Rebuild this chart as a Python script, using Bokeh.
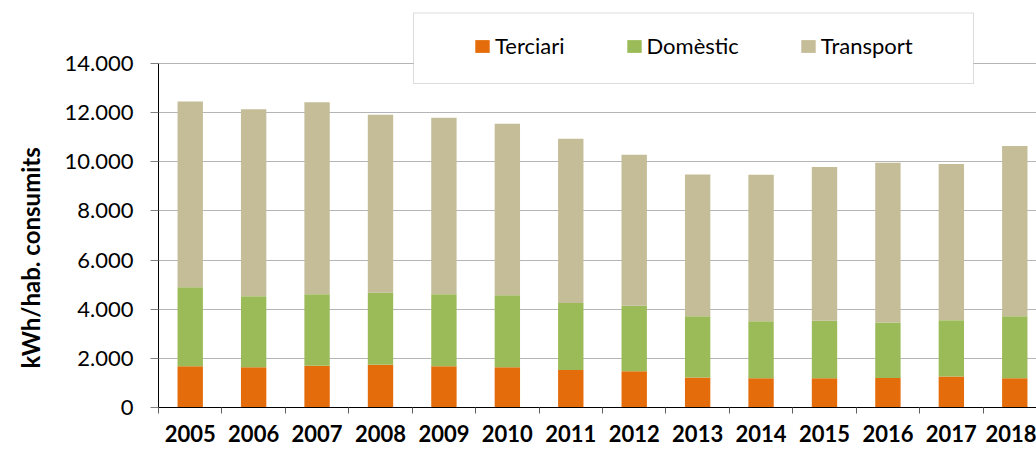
from bokeh.plotting import figure
from bokeh.models import (FixedTicker, Legend, LegendItem, BoxAnnotation, Title,
                          ColumnDataSource, Range1d)
from bokeh.embed import file_html
from bokeh.resources import INLINE

years = ["2005", "2006", "2007", "2008", "2009", "2010", "2011",
         "2012", "2013", "2014", "2015", "2016", "2017", "2018"]
terciari = [1680, 1640, 1695, 1735, 1680, 1640, 1530,
            1480, 1220, 1190, 1190, 1205, 1260, 1190]
domestic_top = [4890, 4525, 4605, 4675, 4605, 4565, 4255,
                4145, 3715, 3510, 3535, 3455, 3550, 3715]
total = [12450, 12140, 12425, 11910, 11790, 11545, 10935,
         10285, 9485, 9470, 9785, 9960, 9905, 10640]
domestic = [d - t for d, t in zip(domestic_top, terciari)]
transport = [tt - d for tt, d in zip(total, domestic_top)]

series = ["Terciari", "Domèstic", "Transport"]
colors = ["#E46C0A", "#9BBB59", "#C4BD97"]
y_ticks = [0, 2000, 4000, 6000, 8000, 10000, 12000, 14000]
y_tick_labels = ["0", "2.000", "4.000", "6.000", "8.000", "10.000", "12.000", "14.000"]
y_title = "kWh/hab. consumits"

FONT = "Lato"
xs = list(range(len(years)))
src = ColumnDataSource(dict(x=xs, Terciari=terciari, Domèstic=domestic, Transport=transport))

# frame: x 157..1036, y 11..407 (14000 at y=63)
W, H = 1036, 450
frame_left, frame_top, frame_bottom, y14 = 157, 11, 407, 63
px_per_unit_y = (frame_bottom - y14) / 14000
y_end = (frame_bottom - frame_top) / px_per_unit_y
cat_w = 63.5
x_end = -0.5 + (W - frame_left) / cat_w

p = figure(width=W, height=H, output_backend="svg", toolbar_location=None,
           x_range=Range1d(-0.5, x_end), y_range=Range1d(0, y_end),
           min_border_left=frame_left, min_border_right=0, min_border_top=frame_top,
           min_border_bottom=H - frame_bottom)
p.outline_line_color = None
p.background_fill_color = "white"
p.border_fill_color = "white"

renderers = p.vbar_stack(series, x="x", width=0.4, source=src, color=colors, line_color=None)

# y axis
p.yaxis.ticker = FixedTicker(ticks=y_ticks, minor_ticks=[])
p.yaxis.major_label_overrides = {t: l for t, l in zip(y_ticks, y_tick_labels)}
p.yaxis.bounds = (0, 14000)
p.yaxis.axis_line_color = "black"
p.yaxis.major_tick_out = 8
p.yaxis.major_tick_in = 0
p.yaxis.major_tick_line_color = "#808080"
p.yaxis.minor_tick_line_color = None
p.yaxis.major_label_standoff = 17
p.yaxis.major_label_text_font = FONT
p.yaxis.major_label_text_font_size = "22px"
p.yaxis.major_label_text_color = "black"
p.ygrid.grid_line_color = "#b5b5b5"
p.ygrid.grid_line_width = 1

# y axis title as a vertical title in the left panel
ytitle = Title(text=y_title, align="left", offset=39, standoff=30, vertical_align="top",
               text_font=FONT, text_font_size="24px", text_font_style="bold",
               text_color="black")
p.add_layout(ytitle, "left")

# x axis
bounds_ticks = [i - 0.5 for i in range(len(years) + 1)]
p.xaxis.ticker = FixedTicker(ticks=xs, minor_ticks=bounds_ticks)
p.xaxis.major_label_overrides = {i: y for i, y in zip(xs, years)}
p.xaxis.axis_line_color = "black"
p.xaxis.major_tick_line_color = None
p.xaxis.major_tick_out = 0
p.xaxis.major_tick_in = 0
p.xaxis.minor_tick_out = 6
p.xaxis.minor_tick_in = 0
p.xaxis.minor_tick_line_color = "#606060"
p.xaxis.major_label_standoff = 11
p.xaxis.major_label_text_font = FONT
p.xaxis.major_label_text_font_size = "22px"
p.xaxis.major_label_text_font_style = "bold"
p.xaxis.major_label_text_color = "black"
p.xgrid.grid_line_color = None

# legend box
box = BoxAnnotation(left=412 - frame_left, right=972 - frame_left,
                    top=frame_bottom - 12.5, bottom=frame_bottom - 83,
                    left_units="screen", right_units="screen",
                    top_units="screen", bottom_units="screen",
                    fill_color="white", fill_alpha=1, line_color="#8c8c8c", line_width=1)
p.add_layout(box)

legend = Legend(items=[LegendItem(label=s, renderers=[r]) for s, r in zip(series, renderers)],
                orientation="horizontal", location=(472 - frame_left, frame_bottom - 59),
                padding=0, margin=0, spacing=60, label_standoff=4,
                glyph_width=18, glyph_height=16,
                label_text_font=FONT, label_text_font_size="22px", label_text_color="black",
                border_line_color=None, background_fill_alpha=0)
p.add_layout(legend, "center")

open("out.html", "w").write(file_html(p, INLINE))
